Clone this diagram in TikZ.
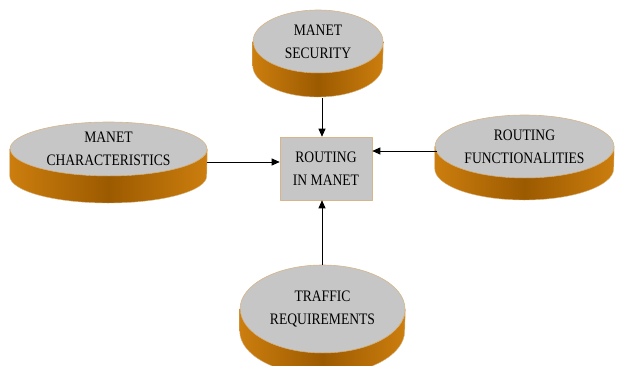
\documentclass[tikz,border=0pt]{standalone}
\usepackage{fontspec}
\newfontfamily\lblfont[FakeStretch=0.85]{Liberation Serif}
\usetikzlibrary{shapes.geometric,arrows.meta,calc}
\definecolor{facegray}{RGB}{198,198,198}
\definecolor{rimtan}{RGB}{214,182,136}
\definecolor{sidelight}{RGB}{204,126,14}
\definecolor{sidedark}{RGB}{156,90,0}
\begin{document}
\begin{tikzpicture}[x=1pt, y=1pt, line join=round, >={Triangle[length=8pt,width=7pt]},
		font=\lblfont\fontsize{16}{23}\selectfont,
		face/.style={ellipse, fill=facegray, draw=rimtan, line width=0.6pt, inner sep=0pt, align=center},
		side/.style={left color=sidelight, right color=sidelight, middle color=sidedark, draw=rimtan, line width=0.4pt},
		arr/.style={->, line width=0.9pt}]
			\useasboundingbox (0,0) rectangle (624,-365);
			
			\foreach \n/\x/\y/\rx/\ry/\t/\txt in {
				sec/318/41.5/65/31.5/24/{MANET\\SECURITY},
				char/108.5/149/98.5/27/27/{MANET\\CHARACTERISTICS},
				func/524.5/146.5/89.5/31.5/22/{ROUTING\\FUNCTIONALITIES},
				traf/322.5/309/82.5/44/22/{TRAFFIC\\REQUIREMENTS}}
			{
				\node[face, minimum width=2*\rx pt, minimum height=2*\ry pt] (\n) at (\x,-\y) {\txt};
				\shade[side] (\n.west) -- ++(0,-\t) arc[start angle=180, end angle=360, x radius=\rx, y radius=\ry]
					-- (\n.east) arc[start angle=360, end angle=180, x radius=\rx, y radius=\ry] -- cycle;
			}
			
			\node[rectangle, fill=facegray, draw=rimtan, line width=0.6pt, minimum width=92pt, minimum height=63pt, align=center] (box) at (326,-168.5) {ROUTING\\IN MANET};
			
			\path
			(322,-98) coordinate (secB)
			(207,-162) coordinate (charE)
			(437,-151) coordinate (funcW)
			(322,-265) coordinate (trafN);
			
			\draw[arr] (secB) -- (secB |- box.north);
			\draw[arr] (charE) -- (charE -| box.west);
			\draw[arr] (funcW) -- (funcW -| box.east);
			\draw[arr] (trafN) -- (trafN |- box.south);
		\end{tikzpicture}
\end{document}
